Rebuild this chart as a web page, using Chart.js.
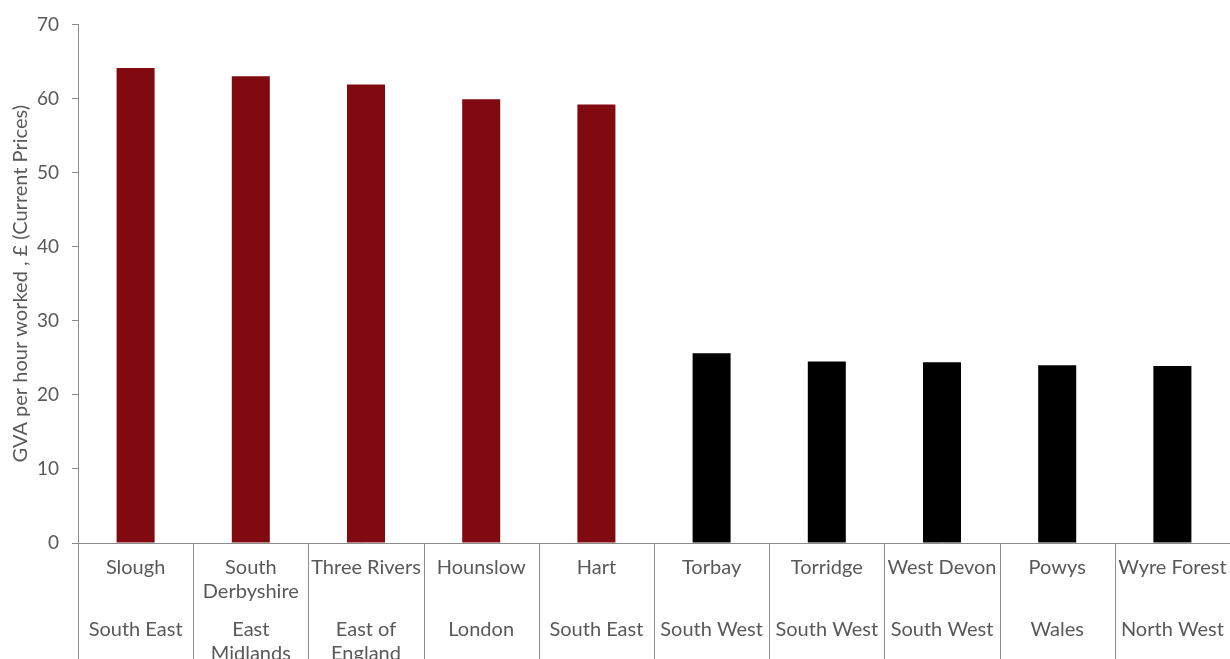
<!DOCTYPE html>
<html>
<head>
<meta charset="utf-8">
<script src="https://cdn.jsdelivr.net/npm/chart.js@4/dist/chart.umd.min.js"></script>
<style>
  html, body { margin: 0; padding: 0; background: #fff; overflow: hidden; }
  #wrap { width: 1230px; height: 659px; overflow: hidden; }
</style>
</head>
<body>
<div id="wrap"><canvas id="gva-chart" width="1230" height="720"></canvas></div>
<script>
// local authorities, highest five then lowest five
const areas = [
  'Slough', ['South', 'Derbyshire'], 'Three Rivers', 'Hounslow', 'Hart',
  'Torbay', 'Torridge', 'West Devon', 'Powys', 'Wyre Forest'
];
const regions = [
  'South East', ['East', 'Midlands'], ['East of', 'England'], 'London', 'South East',
  'South West', 'South West', 'South West', 'Wales', 'North West'
];
const gvaPerHour = [64.1, 63.0, 61.9, 59.9, 59.2, 25.6, 24.5, 24.4, 24.0, 23.9];
const yTicks = [0, 10, 20, 30, 40, 50, 60, 70];

const barColors = gvaPerHour.map((v, i) => i < 5 ? '#800a10' : '#000000');
const grey = '#595959';
const lineGrey = '#8c8c8c';
const labelFont = { family: 'Lato', size: 20, lineHeight: 1.2 };

// labels fit inside their boxes, so no extra side padding for the x rows
const noSidePadding = scale => {
  scale.paddingLeft = 0;
  scale.paddingRight = 0;
};

// vertical dividers between the category boxes, running down through both label rows
const categoryDividers = {
  id: 'categoryDividers',
  afterDraw(chart) {
    const x = chart.scales.x;
    const c = chart.ctx;
    const step = (x.right - x.left) / areas.length;
    c.save();
    c.strokeStyle = lineGrey;
    c.lineWidth = 1;
    c.beginPath();
    for (let i = 0; i <= areas.length; i++) {
      const px = Math.round(x.left + i * step) + 0.5;
      c.moveTo(px, chart.chartArea.bottom);
      c.lineTo(px, chart.height);
    }
    c.stroke();
    c.restore();
  }
};

const ctx = document.getElementById('gva-chart').getContext('2d');
new Chart(ctx, {
  type: 'bar',
  data: {
    labels: areas,
    datasets: [{
      data: gvaPerHour,
      backgroundColor: barColors,
      barPercentage: 0.33,
      categoryPercentage: 1.0
    }]
  },
  options: {
    responsive: false,
    animation: false,
    layout: { padding: { top: 17, left: 0, right: 0, bottom: 53 } },
    plugins: {
      legend: { display: false },
      tooltip: { enabled: false }
    },
    scales: {
      x: {
        type: 'category',
        weight: 0,
        offset: true,
        afterFit: noSidePadding,
        border: { color: lineGrey, width: 1 },
        grid: { display: false, drawTicks: false },
        ticks: {
          color: grey,
          font: labelFont,
          padding: 13,
          maxRotation: 0,
          autoSkip: false
        }
      },
      x2: {
        type: 'category',
        position: 'bottom',
        weight: 1,
        offset: true,
        labels: regions,
        afterFit: noSidePadding,
        border: { display: false },
        grid: { display: false, drawTicks: false },
        ticks: {
          color: grey,
          font: labelFont,
          padding: 1,
          maxRotation: 0,
          autoSkip: false
        }
      },
      y: {
        min: 0,
        max: 70,
        afterFit: scale => { scale.width = 78; },
        border: { color: lineGrey, width: 1 },
        grid: {
          drawOnChartArea: false,
          drawTicks: true,
          tickLength: 6,
          color: lineGrey
        },
        afterBuildTicks: scale => {
          scale.ticks = yTicks.map(v => ({ value: v }));
        },
        ticks: {
          color: grey,
          font: { family: 'Lato', size: 19 },
          padding: 13
        },
        title: {
          display: true,
          text: 'GVA per hour worked , £ (Current Prices)',
          color: grey,
          font: { family: 'Lato', size: 20 },
          padding: { top: 9, bottom: 0 }
        }
      }
    }
  },
  plugins: [categoryDividers]
});
</script>
</body>
</html>
